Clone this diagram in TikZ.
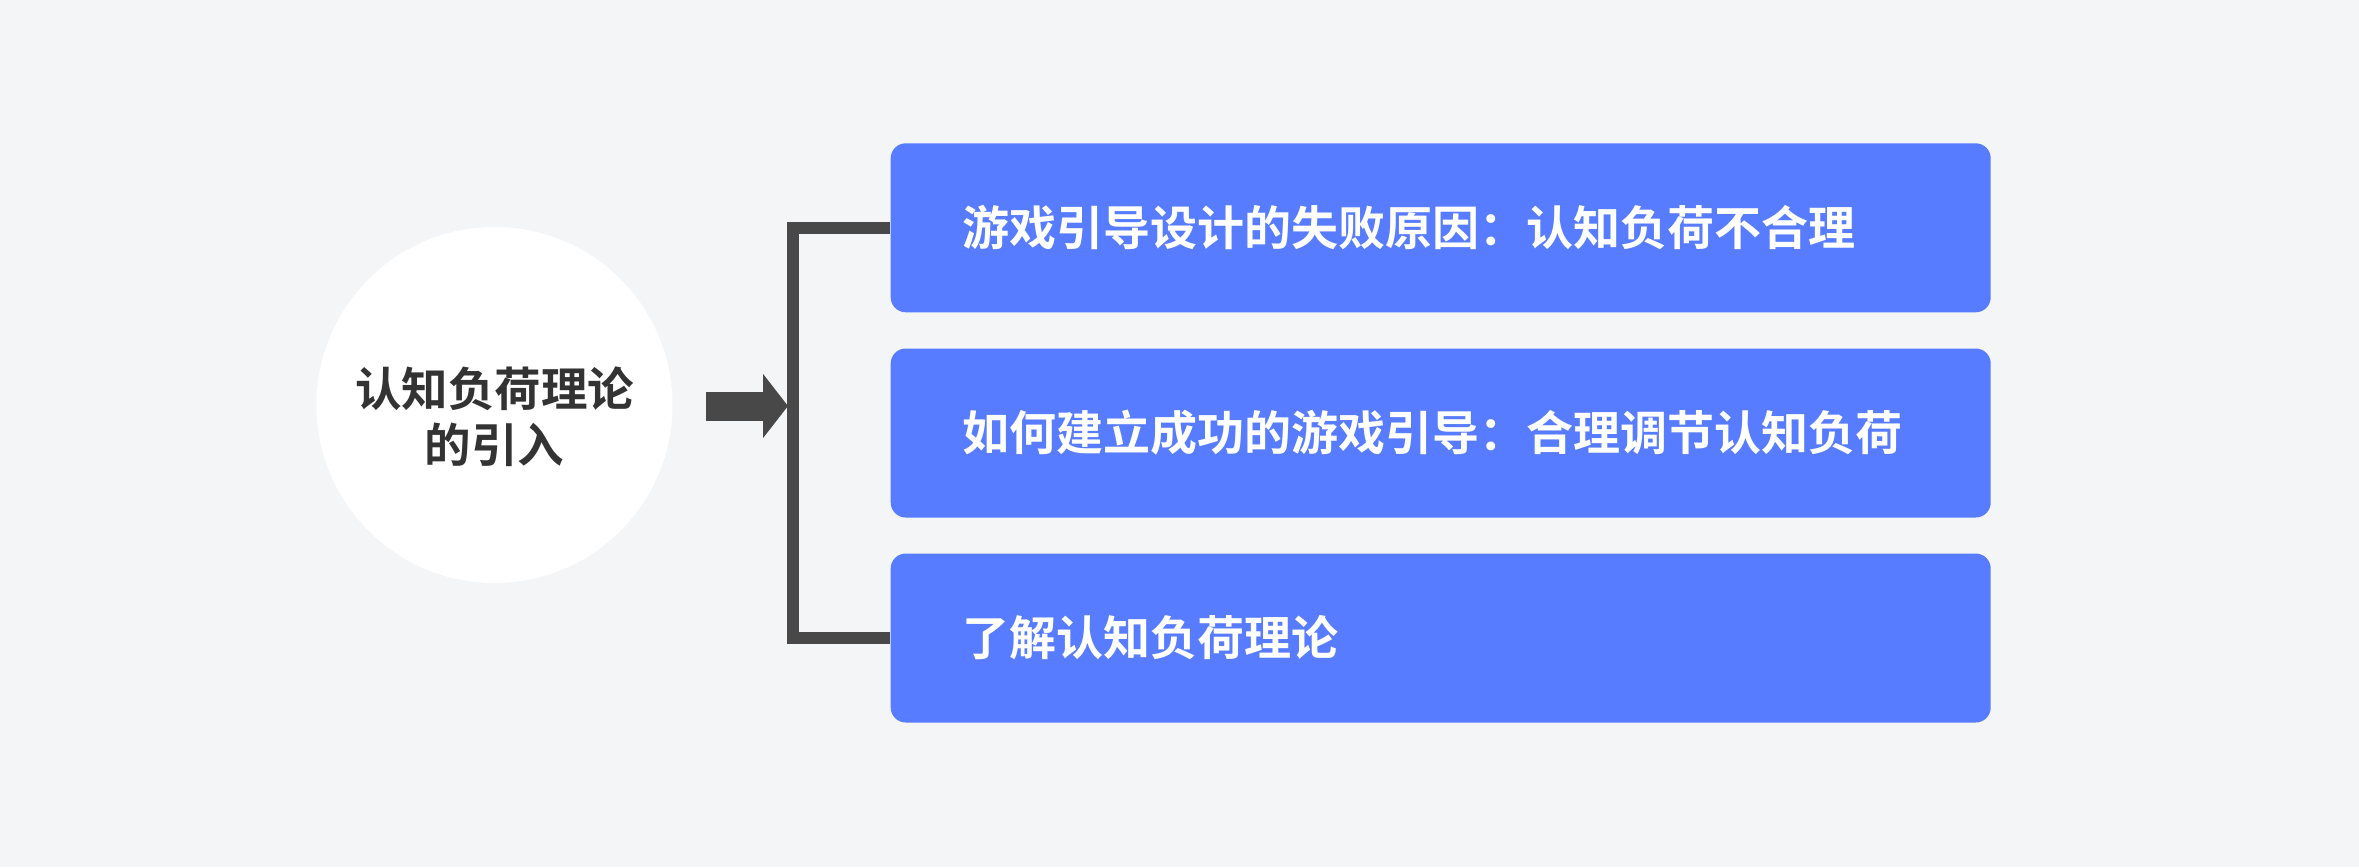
\documentclass[tikz,border=0pt]{standalone}
\usepackage{fontspec}
\newfontfamily\cjk{Noto Sans CJK SC}[BoldFont={* Bold}]
\usetikzlibrary{arrows.meta}
\definecolor{bgcol}{HTML}{F4F5F7}
\definecolor{boxcol}{HTML}{587CFF}
\definecolor{linecol}{HTML}{484848}
\definecolor{txtcol}{HTML}{333333}
\tikzset{
  hub/.style={circle, fill=white, inner sep=0pt, minimum size=178pt},
  hubtext/.style={align=center, text=txtcol, inner sep=0pt,
    font=\cjk\bfseries\fontsize{23.25pt}{28pt}\selectfont},
  topic/.style={rectangle, rounded corners=7.5pt, fill=boxcol, text=white,
    minimum width=550pt, minimum height=84.5pt, inner xsep=36pt, inner ysep=0pt,
    text width=478pt, align=left, font=\cjk\bfseries\fontsize{23.5pt}{28pt}\selectfont},
}
\begin{document}
\begin{tikzpicture}[x=0.5pt,y=-0.5pt]
\fill[bgcol] (0,0) rectangle (2359,867);
\useasboundingbox (0,0) rectangle (2359,867);

\node (c) at (494.5,405) [hub] {};
\node (ct) at (494.5,417) [hubtext] {认知负荷理论\\的引入};

\node (b1) at (1440.7,227.8) [topic] {游戏引导设计的失败原因：认知负荷不合理};
\node (b2) at (1440.7,433) [topic] {如何建立成功的游戏引导：合理调节认知负荷};
\node (b3) at (1440.7,638) [topic] {了解认知负荷理论};

\coordinate (brk) at (793,406);
\coordinate (arrS) at (706,406);
\coordinate (arrE) at (788,406);

\draw[linecol, line width=6pt]
(b1.west) -| (brk) |- (b3.west);
\draw[linecol, line width=14.5pt, -{Triangle[length=12.5pt,width=31.5pt]}]
(arrS) -- (arrE);
\end{tikzpicture}
\end{document}
